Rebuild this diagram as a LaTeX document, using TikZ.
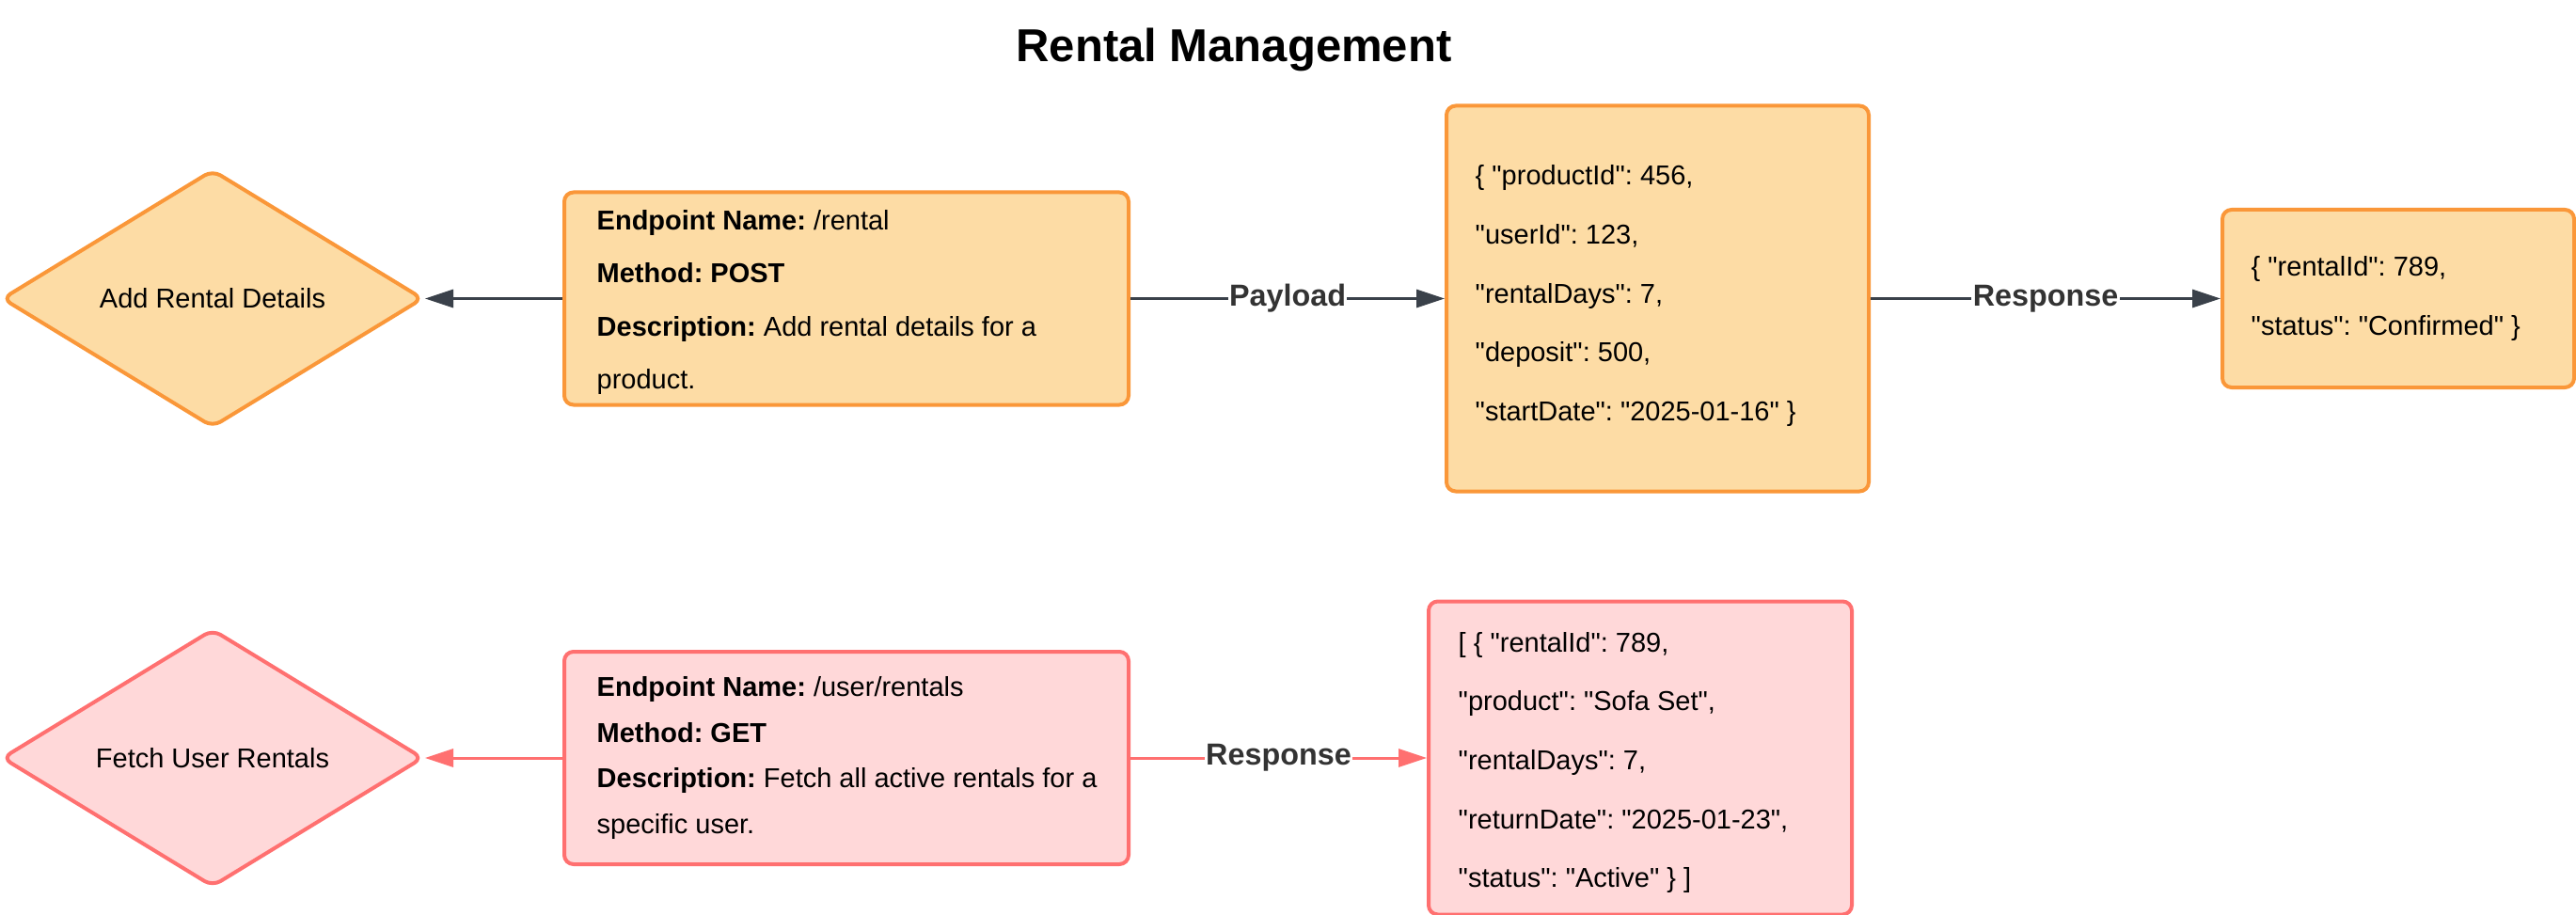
\documentclass[tikz,border=0pt]{standalone}
\usepackage{fontspec}
\setmainfont{Liberation Sans}[Ligatures=TeXOff]
\frenchspacing
\usetikzlibrary{shapes.geometric,arrows.meta}
\definecolor{orangetrait}{RGB}{250,151,57}
\definecolor{orangefond}{RGB}{253,220,165}
\definecolor{rosetrait}{RGB}{255,112,112}
\definecolor{rosefond}{RGB}{255,216,217}
\definecolor{fleche}{RGB}{58,65,74}
\definecolor{etiquette}{RGB}{51,51,51}

\begin{document}
\begin{tikzpicture}[
	boite/.style={rectangle,rounded corners=2.8pt,line width=0.4mm,inner sep=0pt},
	losange/.style={diamond,aspect=1.63,rounded corners=2.8pt,line width=0.4mm,inner sep=0pt,
		minimum width=4.48cm,minimum height=2.74cm,font=\fontsize{8.25}{10}\selectfont},
	texte/.style={anchor=west,align=left,inner sep=0pt},
	fl/.style={line width=0.3mm,-{Triangle[length=3mm,width=1.9mm]}},
	etiq/.style={fill=white,inner sep=0.4pt,text=etiquette,font=\fontsize{9.2}{11}\selectfont\bfseries}]
	% Dimensions de la page et des lignes
	\def\yh{-3.175} \def\yb{-8.06}
	\useasboundingbox (0,0) rectangle (27.39,-9.73);
	%
	% Titre
	\node[font=\fontsize{13.95}{16}\selectfont\bfseries,anchor=base] (titre) at (13.12,-0.66) {Rental Management};
	%
	% Ligne du haut : ajout d'une location
	\node[losange,draw=orangetrait,fill=orangefond] (ajout) at (2.26,\yh) {Add Rental Details};
	\node[boite,draw=orangetrait,fill=orangefond,minimum width=6cm,minimum height=2.26cm] (ep1) at (9,\yh) {};
	\node[texte,font=\fontsize{8.25}{15.94}\selectfont] (ep1txt) at ([xshift=3.6mm,yshift=-0.4mm]ep1.west)
		{\textbf{Endpoint Name:} /rental\\
		\textbf{Method: POST}\\
		\textbf{Description:} Add rental details for a\\
		product.};
	\node[boite,draw=orangetrait,fill=orangefond,minimum width=4.49cm,minimum height=4.1cm] (json1) at (17.625,\yh) {};
	\node[texte,font=\fontsize{8.25}{17.9}\selectfont] (json1txt) at ([xshift=3.2mm,yshift=0.3mm]json1.west)
		{\{ "productId": 456,\\
		"userId": 123,\\
		"rentalDays": 7,\\
		"deposit": 500,\\
		"startDate": "2025-01-16" \}};
	\node[boite,draw=orangetrait,fill=orangefond,minimum width=3.74cm,minimum height=1.89cm] (json2) at (25.5,\yh) {};
	\node[texte,font=\fontsize{8.25}{17.9}\selectfont] (json2txt) at ([xshift=3.2mm]json2.west)
		{\{ "rentalId": 789,\\
		"status": "Confirmed" \}};
	% Fleches du haut
	\draw[fl,fleche] (ep1.west) -- (ajout.east);
	\draw[fl,fleche] (ep1.east) -- node[etiq] (lpayload) {Payload} (json1.west);
	\draw[fl,fleche] (json1.east) -- node[etiq] (lrep1) {Response} (json2.west);
	%
	% Ligne du bas : locations d'un utilisateur
	\node[losange,draw=rosetrait,fill=rosefond] (liste) at (2.26,\yb) {Fetch User Rentals};
	\node[boite,draw=rosetrait,fill=rosefond,minimum width=6cm,minimum height=2.26cm] (ep2) at (9,\yb) {};
	\node[texte,font=\fontsize{8.25}{13.94}\selectfont] (ep2txt) at ([xshift=3.6mm]ep2.west)
		{\textbf{Endpoint Name:} /user/rentals\\
		\textbf{Method: GET}\\
		\textbf{Description:} Fetch all active rentals for a\\
		specific user.};
	\node[boite,draw=rosetrait,fill=rosefond,minimum width=4.5cm,minimum height=3.33cm] (json3) at (17.44,\yb) {};
	\node[texte,font=\fontsize{8.25}{17.8}\selectfont] (json3txt) at ([xshift=3.3mm,yshift=-0.5mm]json3.west)
		{[ \{ "rentalId": 789,\\
		"product": "Sofa Set",\\
		"rentalDays": 7,\\
		"returnDate": "2025-01-23",\\
		"status": "Active" \} ]};
	% Fleches du bas
	\draw[fl,rosetrait] (ep2.west) -- (liste.east);
	\draw[fl,rosetrait] (ep2.east) -- node[etiq] (lrep2) {Response} (json3.west);
\end{tikzpicture}
\end{document}
